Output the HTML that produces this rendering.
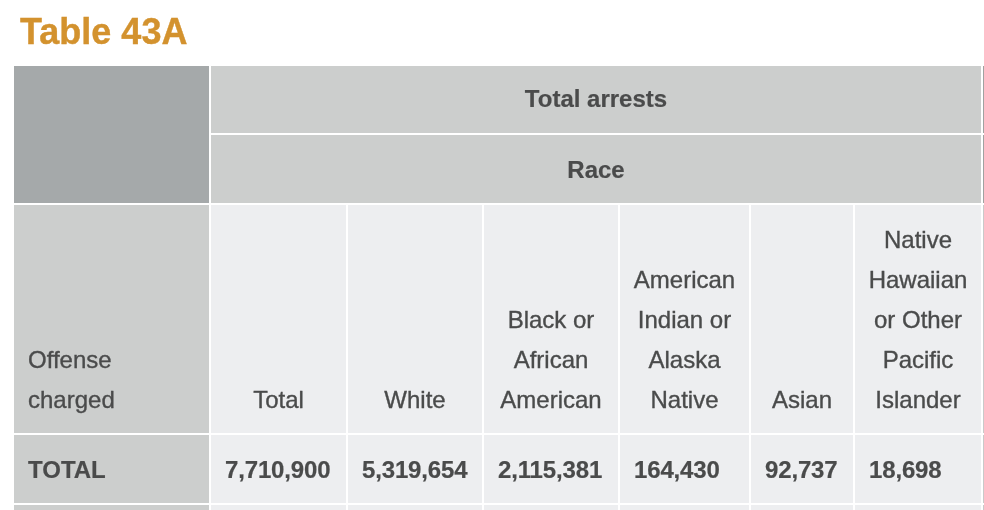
<!DOCTYPE html>
<html>
<head>
<meta charset="utf-8">
<style>
html,body{margin:0;padding:0;background:#fff;width:984px;height:510px;overflow:hidden;}
body{position:relative;-webkit-font-smoothing:antialiased;-webkit-text-stroke:0.35px #4a4b4b;font-family:"Liberation Sans",sans-serif;color:#4a4b4b;}
.title{position:absolute;will-change:transform;left:20px;top:10px;font-size:36px;font-weight:bold;color:#d3922e;-webkit-text-stroke:0.4px #d3922e;line-height:44px;white-space:nowrap;}
.c{position:absolute;box-sizing:border-box;}
.dk{background:#a5a9aa;}
.lg{background:#cccecd;}
.lt{background:#edeef0;}
.t{position:absolute;will-change:transform;font-size:24px;line-height:40px;white-space:nowrap;}
.b{font-weight:bold;-webkit-text-stroke-width:0.2px;}
.hd{position:absolute;will-change:transform;left:0;right:0;bottom:13px;text-align:center;font-size:24px;line-height:40px;}
.ln{position:absolute;will-change:transform;left:14px;bottom:13px;font-size:24px;line-height:40px;white-space:nowrap;}
</style>
</head>
<body>
<div class="title">Table 43A</div>

<!-- row 1 -->
<div class="c dk" style="left:14px;top:66px;width:195px;height:137px;"></div>
<div class="c lg" style="left:211px;top:66px;width:770px;height:67px;"></div>
<div class="c lg" style="left:211px;top:135px;width:770px;height:68px;"></div>
<div class="t b" style="left:211px;width:770px;top:79px;text-align:center;">Total arrests</div>
<div class="t b" style="left:211px;width:770px;top:150px;text-align:center;">Race</div>
<div class="c" style="left:983px;top:66px;width:1px;height:67px;background:#a0a2a1;"></div>
<div class="c" style="left:983px;top:135px;width:1px;height:68px;background:#a0a2a1;"></div>

<!-- row 3 -->
<div class="c lg" style="left:14px;top:205px;width:195px;height:228px;"><div class="ln">Offense<br>charged</div></div>
<div class="c lt" style="left:211px;top:205px;width:135px;height:228px;"><div class="hd">Total</div></div>
<div class="c lt" style="left:348px;top:205px;width:134px;height:228px;"><div class="hd">White</div></div>
<div class="c lt" style="left:484px;top:205px;width:134px;height:228px;"><div class="hd">Black or<br>African<br>American</div></div>
<div class="c lt" style="left:620px;top:205px;width:129px;height:228px;"><div class="hd">American<br>Indian or<br>Alaska<br>Native</div></div>
<div class="c lt" style="left:751px;top:205px;width:102px;height:228px;"><div class="hd">Asian</div></div>
<div class="c lt" style="left:855px;top:205px;width:126px;height:228px;"><div class="hd">Native<br>Hawaiian<br>or Other<br>Pacific<br>Islander</div></div>
<div class="c" style="left:983px;top:205px;width:1px;height:228px;background:#c9c9c9;"></div>

<!-- row 4 -->
<div class="c lg" style="left:14px;top:435px;width:195px;height:68px;"><div class="ln b">TOTAL</div></div>
<div class="c lt" style="left:211px;top:435px;width:135px;height:68px;"><div class="ln b" style="letter-spacing:-0.15px">7,710,900</div></div>
<div class="c lt" style="left:348px;top:435px;width:134px;height:68px;"><div class="ln b" style="letter-spacing:-0.15px">5,319,654</div></div>
<div class="c lt" style="left:484px;top:435px;width:134px;height:68px;"><div class="ln b" style="letter-spacing:-0.15px">2,115,381</div></div>
<div class="c lt" style="left:620px;top:435px;width:129px;height:68px;"><div class="ln b" style="letter-spacing:-0.15px">164,430</div></div>
<div class="c lt" style="left:751px;top:435px;width:102px;height:68px;"><div class="ln b" style="letter-spacing:-0.15px">92,737</div></div>
<div class="c lt" style="left:855px;top:435px;width:126px;height:68px;"><div class="ln b" style="letter-spacing:-0.15px">18,698</div></div>
<div class="c" style="left:983px;top:435px;width:1px;height:68px;background:#c9c9c9;"></div>

<!-- row 5 -->
<div class="c lg" style="left:14px;top:505px;width:195px;height:5px;"></div>
<div class="c lt" style="left:211px;top:505px;width:135px;height:5px;"></div>
<div class="c lt" style="left:348px;top:505px;width:134px;height:5px;"></div>
<div class="c lt" style="left:484px;top:505px;width:134px;height:5px;"></div>
<div class="c lt" style="left:620px;top:505px;width:129px;height:5px;"></div>
<div class="c lt" style="left:751px;top:505px;width:102px;height:5px;"></div>
<div class="c lt" style="left:855px;top:505px;width:126px;height:5px;"></div>
<div class="c" style="left:983px;top:505px;width:1px;height:5px;background:#c9c9c9;"></div>
</body>
</html>
